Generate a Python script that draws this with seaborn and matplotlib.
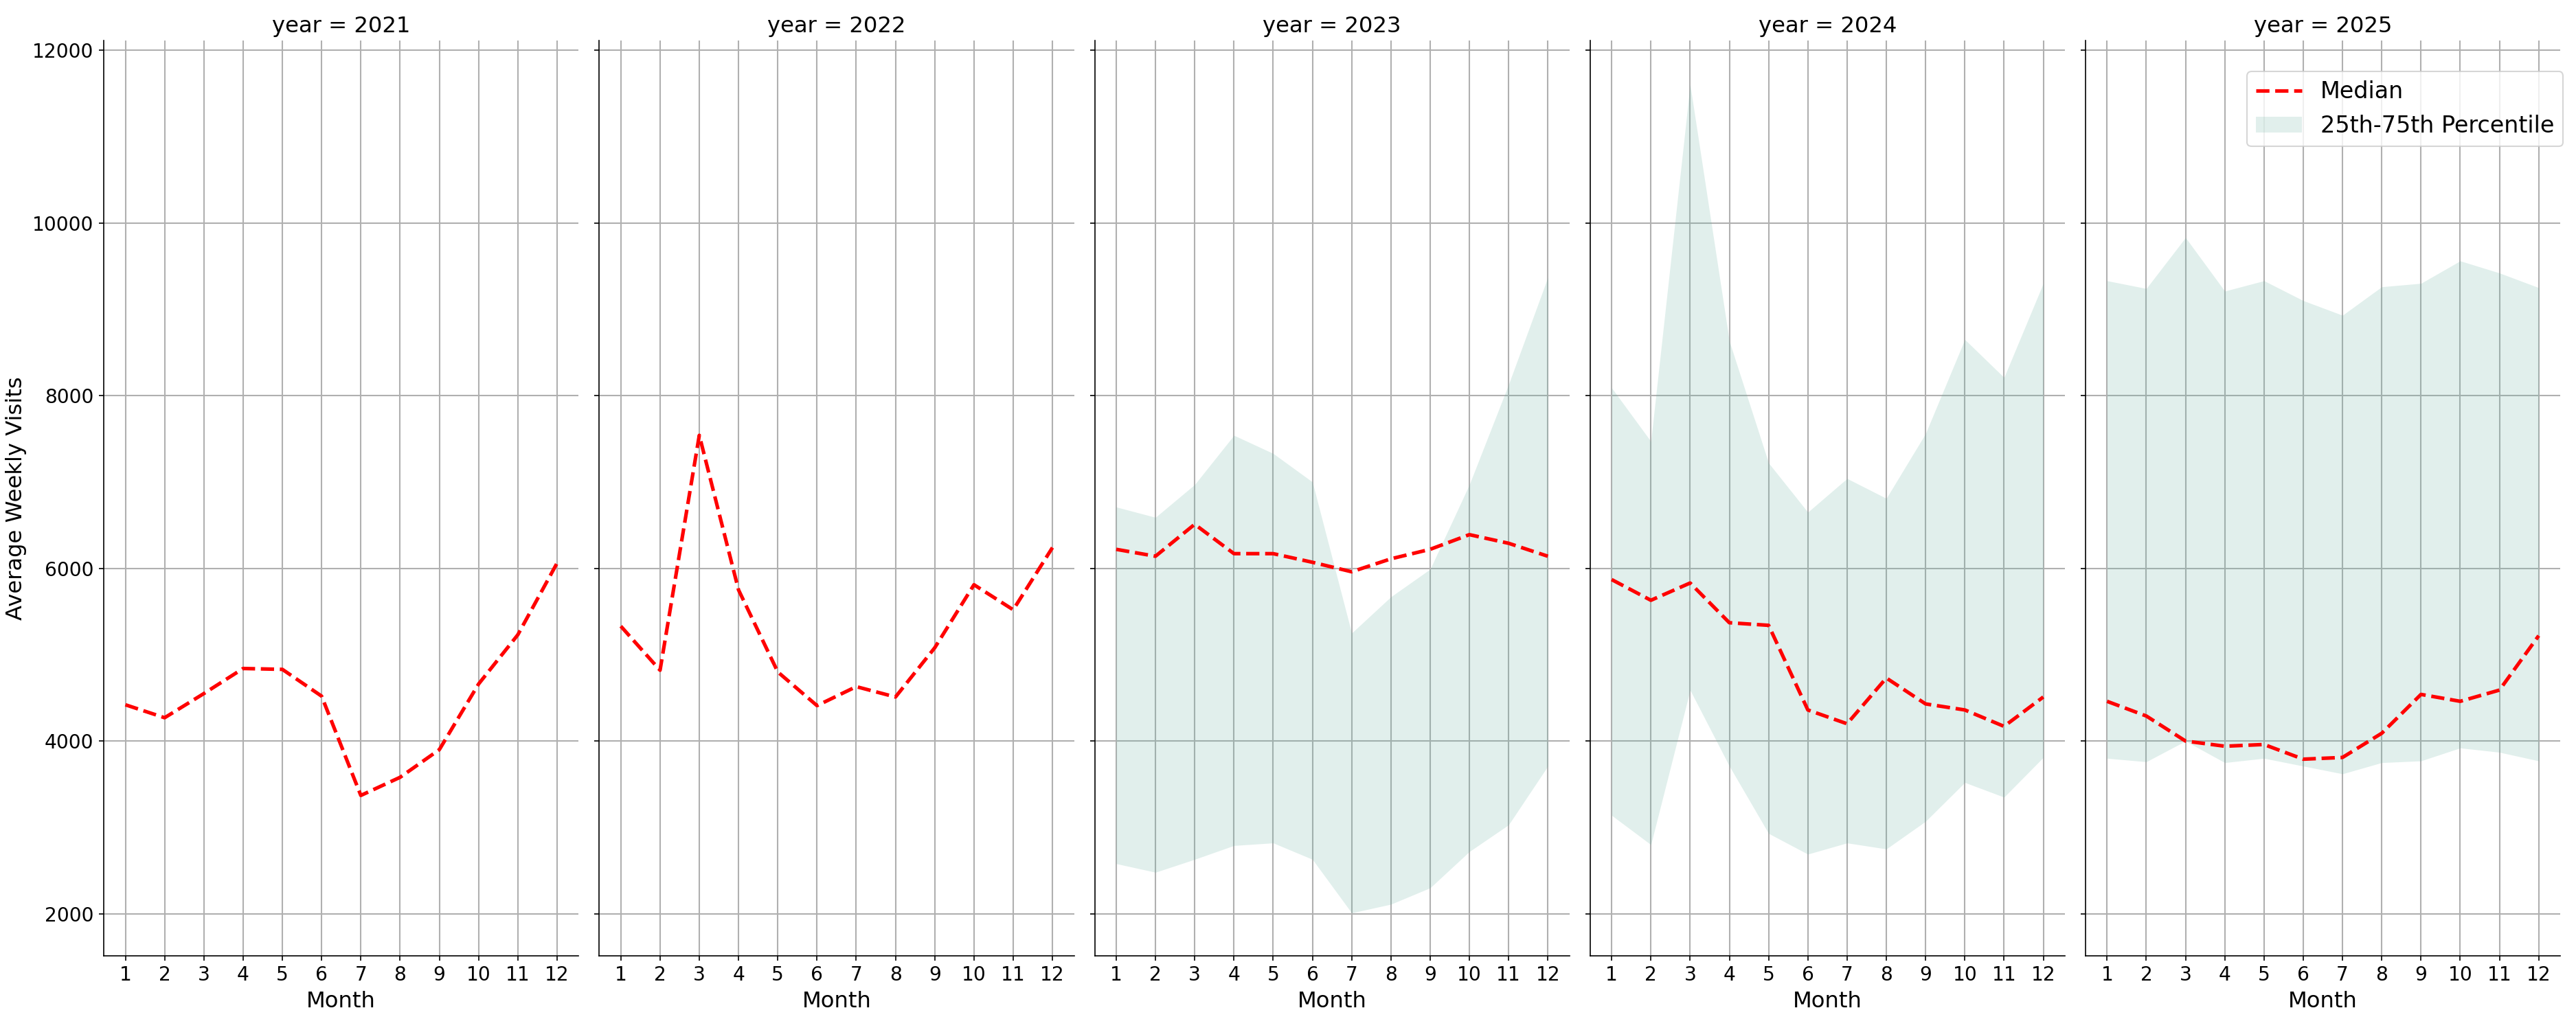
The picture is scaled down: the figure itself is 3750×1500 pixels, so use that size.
import matplotlib
matplotlib.use("Agg")
import matplotlib.pyplot as plt
import numpy as np
import pandas as pd
import seaborn as sns

# monthly values
months = list(range(1, 13))
years = [2021, 2022, 2023, 2024, 2025]

median_2021 = [4420, 4270, 4550, 4840, 4830, 4520, 3370, 3580, 3900, 4660, 5230, 6060]
median_2022 = [5330, 4820, 7540, 5750, 4800, 4410, 4630, 4510, 5080, 5810, 5520, 6240]
median_2023 = [6220, 6140, 6510, 6170, 6170, 6070, 5960, 6110, 6220, 6390, 6290, 6140]
median_2024 = [5870, 5630, 5830, 5370, 5340, 4360, 4200, 4730, 4430, 4360, 4170, 4510]
median_2025 = [4460, 4290, 4000, 3940, 3960, 3790, 3810, 4090, 4540, 4460, 4590, 5220]

q25_2023 = [2580, 2480, 2630, 2790, 2820, 2630, 2010, 2110, 2300, 2720, 3030, 3710]
q75_2023 = [6710, 6590, 6970, 7540, 7330, 7000, 5250, 5670, 5990, 6970, 8130, 9370]
q25_2024 = [3140, 2800, 4590, 3710, 2930, 2690, 2820, 2750, 3070, 3520, 3350, 3810]
q75_2024 = [8090, 7470, 11600, 8630, 7220, 6650, 7040, 6810, 7560, 8650, 8210, 9300]
q25_2025 = [3800, 3760, 4000, 3750, 3800, 3710, 3620, 3750, 3770, 3920, 3870, 3770]
q75_2025 = [9330, 9240, 9830, 9210, 9330, 9100, 8930, 9260, 9300, 9560, 9420, 9250]

medians = [median_2021, median_2022, median_2023, median_2024, median_2025]
q25s = [None, None, q25_2023, q25_2024, q25_2025]
q75s = [None, None, q75_2023, q75_2024, q75_2025]

frames = []
for yr, med, lo, hi in zip(years, medians, q25s, q75s):
    frames.append(pd.DataFrame({
        "year": yr,
        "month": months,
        "median": med,
        "q25": lo if lo is not None else [np.nan] * 12,
        "q75": hi if hi is not None else [np.nan] * 12,
    }))
df = pd.concat(frames, ignore_index=True)

plt.rcParams["font.size"] = 13.5
plt.rcParams["xtick.labelsize"] = 13.5
plt.rcParams["ytick.labelsize"] = 13.5
plt.rcParams["axes.labelsize"] = 15.5
plt.rcParams["axes.titlesize"] = 15
plt.rcParams["legend.fontsize"] = 16


def draw_panel(data, **kws):
    ax = plt.gca()
    sns.lineplot(data=data, x="month", y="median", color="red",
                 linestyle="--", linewidth=2.5, label="Median",
                 legend=False, ax=ax)
    band = data.dropna(subset=["q25", "q75"])
    if len(band):
        ax.fill_between(band["month"], band["q25"], band["q75"],
                        color="#69b3a2", alpha=0.2, linewidth=0,
                        label="25th-75th Percentile")


g = sns.FacetGrid(df, col="year", height=10, aspect=0.5, sharey=True)
g.map_dataframe(draw_panel)
g.set_axis_labels("Month", "Average Weekly Visits")

for ax in g.axes.flat:
    ax.set_axisbelow(True)
    ax.grid(True, color="#b0b0b0", linewidth=1.0)
    ax.set_xticks(months)
    ax.set_xlim(0.45, 12.55)
ax.set_ylim(1515, 12110)

last = g.axes.flat[-1]
handles, labels = last.get_legend_handles_labels()
last.legend(handles, labels, loc="upper right",
            bbox_to_anchor=(1.006, 0.9665), borderaxespad=0)

g.figure.set_size_inches(25, 10)
g.figure.subplots_adjust(left=0.0403, right=0.9939, bottom=0.0722,
                         top=0.9605, wspace=0.0434)
g.figure.savefig("out.png", dpi=150)
